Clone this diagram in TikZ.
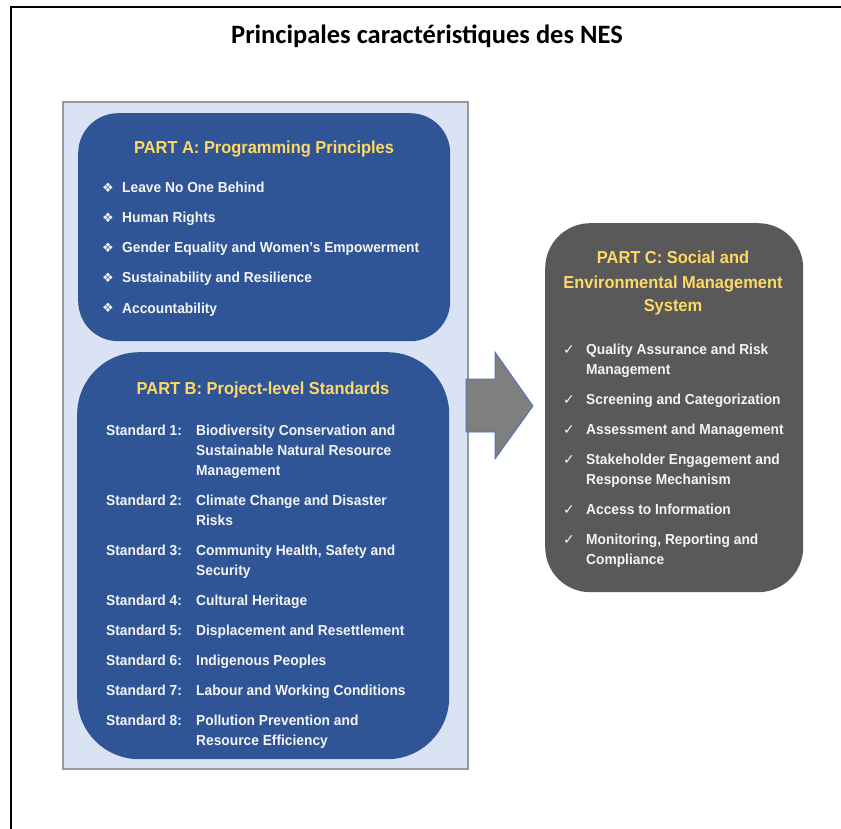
\documentclass[tikz,border=0pt]{standalone}
\usepackage{fontspec}
\setmainfont{Liberation Sans}
\newfontfamily\boxfont[FakeStretch=0.95]{Liberation Sans}
\newfontfamily\titlefont{Carlito}
\newfontfamily\symfont{DejaVu Sans}
\definecolor{boxblue}{HTML}{2F5597}
\definecolor{bgblue}{HTML}{DAE3F3}
\definecolor{framegray}{HTML}{999999}
\definecolor{darkgray}{HTML}{595959}
\definecolor{arrowgray}{HTML}{7F7F7F}
\definecolor{arrowedge}{HTML}{4472C4}
\definecolor{headgold}{HTML}{FFD966}
\definecolor{txtwhite}{HTML}{F4F4F4}
\tikzset{
  hdr/.style={inner sep=0, text=headgold, font=\boxfont\bfseries\fontsize{17.3}{24}\selectfont, anchor=base},
  itm/.style={inner sep=0, text=txtwhite, font=\boxfont\bfseries\fontsize{14.5}{20}\selectfont, anchor=base west},
  bul/.style={inner sep=0, text=txtwhite, font=\symfont\fontsize{13}{14}\selectfont, anchor=base},
  chk/.style={inner sep=0, text=txtwhite, font=\symfont\fontsize{14}{14}\selectfont, anchor=base},
}
\begin{document}
\begin{tikzpicture}[x=1pt,y=-1pt]
\useasboundingbox (0,0) rectangle (841,829);
% outer frame
\draw[line width=2.5pt] (11,840) -- (11,7) -- (850,7);
% title
\node[inner sep=0, anchor=base, font=\titlefont\bfseries\fontsize{26.5}{28}\selectfont] (title) at (427,43.5) {Principales caractéristiques des NES};
% background panel
\node[draw=framegray, line width=1.8pt, fill=bgblue, minimum width=405pt, minimum height=667pt, inner sep=0, anchor=north west] (panel) at (62,101) {};
% part A box
\node[fill=boxblue, rounded corners=40pt, minimum width=372pt, minimum height=228pt, inner sep=0, anchor=north west] (boxA) at (78,113) {};
% part B box
\node[fill=boxblue, rounded corners=62pt, minimum width=372pt, minimum height=407pt, inner sep=0, anchor=north west] (boxB) at (77,352) {};
% part C box
\node[fill=darkgray, rounded corners=45pt, minimum width=258pt, minimum height=369pt, inner sep=0, anchor=north west] (boxC) at (545,223) {};
% arrow
\coordinate (a1) at (466,379);
\coordinate (a2) at (495,379);
\coordinate (a3) at (495,352);
\coordinate (a4) at (533,406);
\coordinate (a5) at (495,459);
\coordinate (a6) at (495,432);
\coordinate (a7) at (466,432);
\draw[fill=arrowgray, draw=arrowedge, line width=0.8pt, line join=miter] (a1) -- (a2) -- (a3) -- (a4) -- (a5) -- (a6) -- (a7) -- cycle;

% Part A content
\node[hdr] (hA) at (264,154) {PART A: Programming Principles};
\foreach \i/\y/\t in {1/193/Leave No One Behind, 2/223/Human Rights, 3/253/Gender Equality and Women’s Empowerment, 4/283/Sustainability and Resilience, 5/313/Accountability}{
  \node[bul] (bA\i) at (108,\y-0.5) {❖};
  \node[itm] (tA\i) at (122,\y) {\t};
}

% Part B content
\node[hdr] (hB) at (263,394) {PART B: Project-level Standards};
\foreach \i/\y in {1/435, 2/505, 3/555, 4/605, 5/635, 6/665, 7/695, 8/725}{
  \node[itm] (sB\i) at (106,\y) {Standard \i:};
}
\foreach \n/\y/\t in {d1a/435/Biodiversity Conservation and, d1b/455/Sustainable Natural Resource, d1c/475/Management,
  d2a/505/Climate Change and Disaster, d2b/525/Risks,
  d3a/555/{Community Health, Safety and}, d3b/575/Security,
  d4/605/Cultural Heritage, d5/635/Displacement and Resettlement, d6/665/Indigenous Peoples,
  d7/695/Labour and Working Conditions, d8a/725/Pollution Prevention and, d8b/745/Resource Efficiency}{
  \node[itm] (\n) at (196,\y) {\t};
}

% Part C content
\node[hdr] (hC1) at (673,264) {PART C: Social and};
\node[hdr] (hC2) at (673,288) {Environmental Management};
\node[hdr] (hC3) at (673,312) {System};
\foreach \i/\y in {1/354, 2/404, 3/434, 4/464, 5/514, 6/544}{
  \node[chk] (cC\i) at (569,\y) {✓};
}
\foreach \n/\y/\t in {c1a/354/Quality Assurance and Risk, c1b/374/Management, c2/404/Screening and Categorization,
  c3/434/Assessment and Management, c4a/464/Stakeholder Engagement and, c4b/484/Response Mechanism,
  c5/514/Access to Information, c6a/544/{Monitoring, Reporting and}, c6b/564/Compliance}{
  \node[itm] (\n) at (586,\y) {\t};
}
\end{tikzpicture}
\end{document}
